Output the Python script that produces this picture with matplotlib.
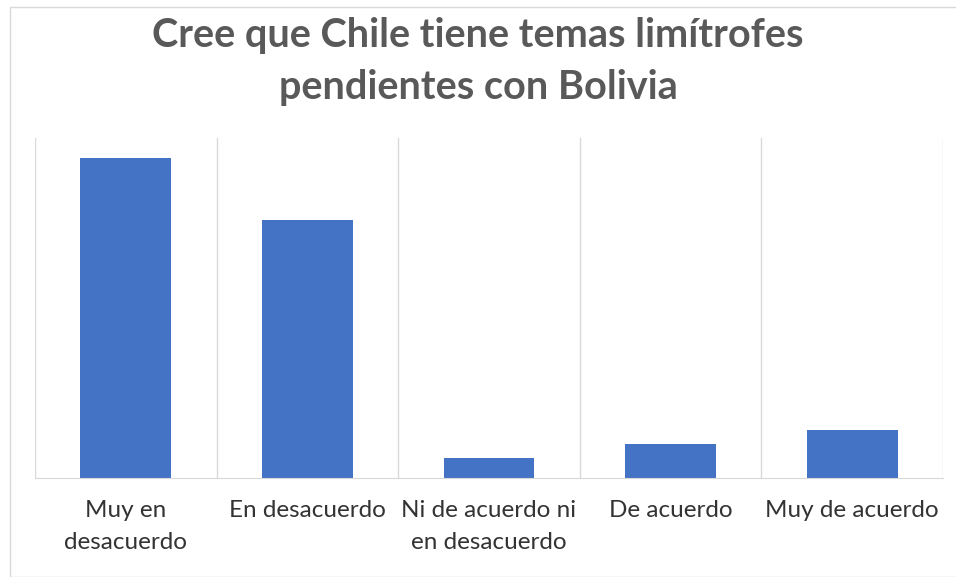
import matplotlib.pyplot as plt
from matplotlib.patches import Rectangle

# Data (percent of respondents)
categories = ["Muy en\ndesacuerdo", "En desacuerdo", "Ni de acuerdo ni\nen desacuerdo",
              "De acuerdo", "Muy de acuerdo"]
values = [47, 38, 3, 5, 7]

plt.rcParams['font.family'] = ['Lato', 'DejaVu Sans']

fig = plt.figure(figsize=(9.56, 5.77), dpi=100)
ax = fig.add_axes([35/956, 1 - 478/577, (943-35)/956, (478-138)/577])

x = range(len(categories))
ax.bar(x, values, width=0.5, color='#4472C4', zorder=3)

ax.set_xlim(-0.5, len(categories) - 0.5)
ax.set_ylim(0, 50)

# vertical gridlines between categories
for b in range(len(categories) + 1):
    ax.axvline(b - 0.5, color='#d9d9d9', lw=1, zorder=1)

for s in ['top', 'right', 'left']:
    ax.spines[s].set_visible(False)
ax.spines['bottom'].set_color('#d9d9d9')
ax.spines['bottom'].set_zorder(4)

ax.set_yticks([])
ax.set_xticks(list(x))
ax.set_xticklabels(categories, fontsize=17.5, color='#333333', linespacing=1.65)
ax.tick_params(axis='x', length=0, pad=16)

fig.text(0.5, 1 - 62/577, "Cree que Chile tiene temas limítrofes\npendientes con Bolivia",
         ha='center', va='center', fontsize=28.5, fontweight='bold', color='#595959',
         linespacing=1.5)

# chart border
fig.patches.append(Rectangle((10/956, 0), 1, 1 - 7/577, transform=fig.transFigure,
                             fill=False, edgecolor='#d9d9d9', lw=1))

fig.savefig("out.png", dpi=100)
